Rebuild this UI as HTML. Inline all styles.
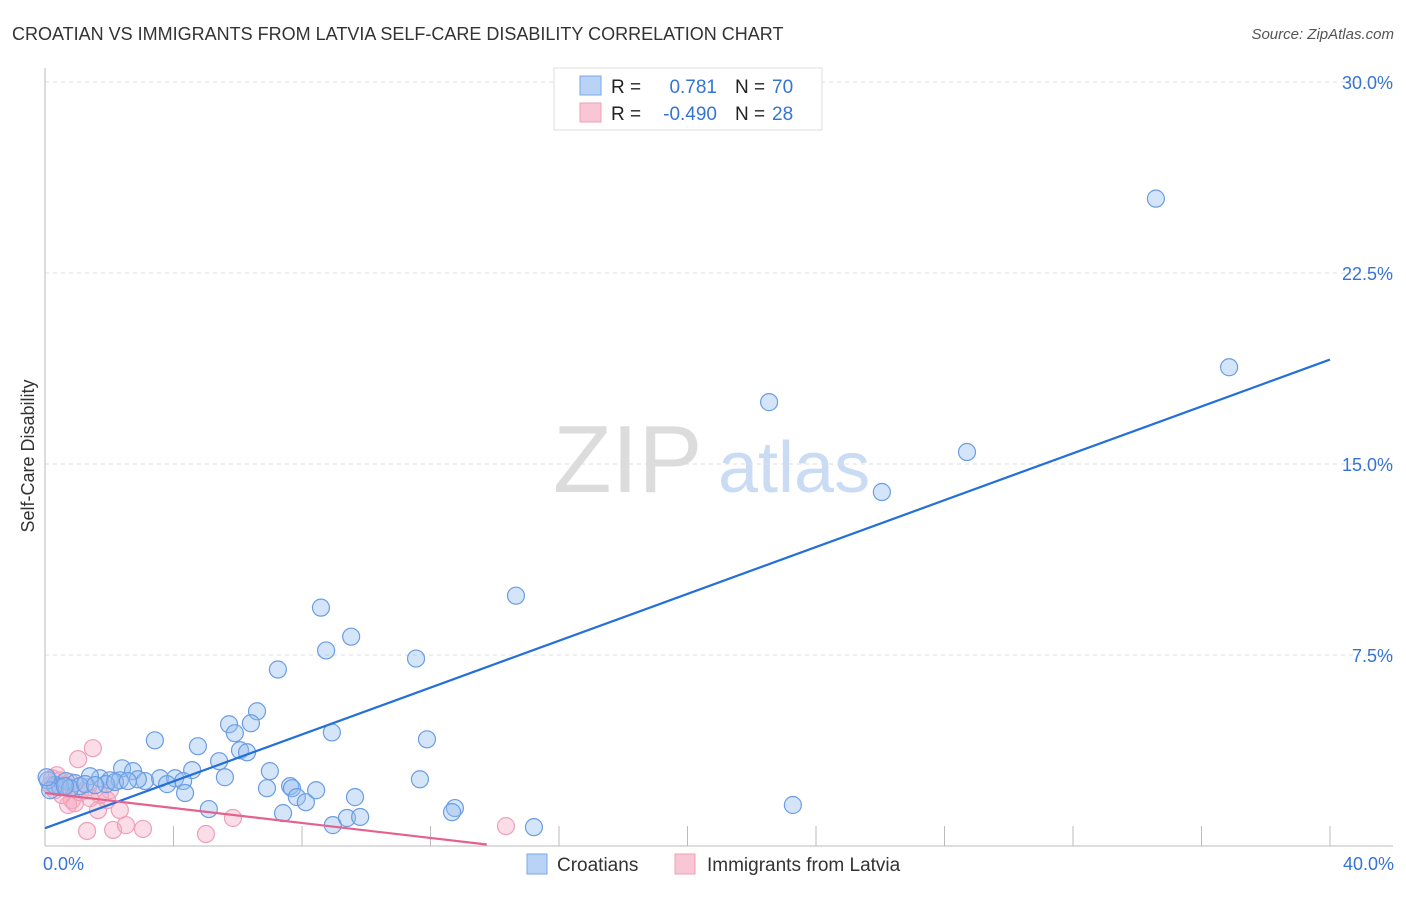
<!DOCTYPE html>
<html><head><meta charset="utf-8"><style>
body{margin:0;background:#fff;font-family:"Liberation Sans",sans-serif;}
svg text{font-family:"Liberation Sans",sans-serif;}
</style></head><body>
<svg id="chart" width="1406" height="892" xmlns="http://www.w3.org/2000/svg">
<text x="12" y="40" font-size="18" fill="#333">CROATIAN VS IMMIGRANTS FROM LATVIA SELF-CARE DISABILITY CORRELATION CHART</text>
<text x="1394" y="39" font-size="15" fill="#555" font-style="italic" text-anchor="end">Source: ZipAtlas.com</text>
<g>
<text x="553" y="492" font-size="96" font-family="Liberation Serif" fill="#dcdcdc">ZIP</text>
<text x="718" y="492" font-size="72" fill="#c9dcf3">atlas</text>
</g>
<g id="grid"></g>
<g id="axes"></g>
<g id="marks"></g>
<text transform="translate(34,456) rotate(-90)" font-size="18" fill="#333" text-anchor="middle">Self-Care Disability</text>
<g>
<rect x="554" y="68" width="268" height="62" fill="#fff" stroke="#ddd"/>
<rect x="580" y="76" width="21" height="19" fill="#b8d3f5" stroke="#7aa8e6"/>
<rect x="580" y="103" width="21" height="19" fill="#f8c6d4" stroke="#ee9fb6"/>
<text x="611" y="93" font-size="19" fill="#222">R =</text>
<text x="717" y="93" font-size="19" fill="#3574d4" text-anchor="end">0.781</text>
<text x="735" y="93" font-size="19" fill="#222">N =</text>
<text x="772" y="93" font-size="19" fill="#3574d4">70</text>
<text x="611" y="120" font-size="19" fill="#222">R =</text>
<text x="717" y="120" font-size="19" fill="#3574d4" text-anchor="end">-0.490</text>
<text x="735" y="120" font-size="19" fill="#222">N =</text>
<text x="772" y="120" font-size="19" fill="#3574d4">28</text>
</g>
<g>
<rect x="527" y="854" width="20" height="20" fill="#b8d3f5" stroke="#7aa8e6"/>
<text x="557" y="871" font-size="19" fill="#333">Croatians</text>
<rect x="675" y="854" width="20" height="20" fill="#f8c6d4" stroke="#ee9fb6"/>
<text x="707" y="871" font-size="19" fill="#333">Immigrants from Latvia</text>
</g>
</svg>
<script>
const yTicks=[7.5,15,22.5,30];
const yTickLabels=["7.5%","15.0%","22.5%","30.0%"];
const xTicks=[0,4,8,12,16,20,24,28,32,36,40];
const xEndLabels=["0.0%","40.0%"];
const blueX=[34.58,36.86,22.54,28.70,26.05,14.66,8.59,9.53,8.75,11.55,7.25,6.60,5.73,6.41,5.91,8.93,11.89,3.42,4.76,6.07,6.29,5.42,4.58,2.40,2.74,7.00,5.60,3.58,4.05,4.30,1.71,1.40,2.02,2.33,3.11,2.89,0.65,0.93,1.09,0.31,0.47,0.09,0.16,0.78,1.90,3.80,4.36,5.10,6.91,7.63,7.69,7.84,8.12,8.44,9.65,11.67,7.41,12.76,12.67,23.28,8.96,9.40,9.81,15.22,0.62,1.25,1.56,2.18,2.58,0.05];
const blueY=[25.42,18.80,17.43,15.47,13.90,9.83,9.36,8.22,7.68,7.36,6.93,5.29,4.78,4.82,4.43,4.46,4.19,4.15,3.92,3.76,3.68,3.33,2.98,3.05,2.94,2.94,2.70,2.66,2.66,2.55,2.66,2.74,2.58,2.58,2.55,2.62,2.55,2.47,2.35,2.39,2.31,2.58,2.19,2.27,2.43,2.43,2.08,1.45,2.27,2.35,2.27,1.92,1.72,2.19,1.92,2.62,1.29,1.49,1.33,1.61,0.82,1.10,1.14,0.74,2.35,2.43,2.39,2.51,2.55,2.7];
const pinkX=[1.49,1.03,0.37,0.22,0.47,0.62,0.78,1.34,2.02,0.84,0.72,0.93,1.71,1.93,2.33,1.65,1.31,2.12,2.52,3.05,5.01,5.85,14.35,0.31,0.16,0.53,1.09,1.40];
const pinkY=[3.84,3.41,2.78,2.66,2.58,2.39,2.51,2.31,2.19,1.80,1.61,1.68,2.00,1.80,1.41,1.41,0.59,0.63,0.82,0.67,0.47,1.10,0.78,2.19,2.39,2.00,2.11,1.88];
const blueTrend=[0.70,0.46,0,40];   // intercept, slope, xStart, xEnd
const pinkTrend=[2.08,-0.147,0,13.75];
const X0=45,X1=1330,Y0=846,Y30=82;
const sx=v=>X0+(v/40)*(X1-X0);
const sy=v=>Y0-(v/30)*(Y0-Y30);
const NS="http://www.w3.org/2000/svg";
function mk(tag,attrs,parent){const e=document.createElementNS(NS,tag);for(const k in attrs)e.setAttribute(k,attrs[k]);document.getElementById(parent).appendChild(e);return e;}
yTicks.forEach((t,i)=>{
 const g=mk('line',{x1:X0,x2:1393,y1:sy(t),y2:sy(t),stroke:'#ddd','stroke-dasharray':'4,4'},'grid');
 
 
 const l=mk('text',{x:1393,y:sy(t)+7,'font-size':18,fill:'#3574d4','text-anchor':'end'},'axes');
 l.textContent=yTickLabels[i];
 
 
});
const ya=mk('line',{x1:X0,x2:X0,y1:68,y2:Y0,stroke:'#bbb'},'axes');


const xa=mk('line',{x1:X0,x2:1393,y1:Y0,y2:Y0,stroke:'#bbb'},'axes');


xTicks.forEach(t=>{
 const tk=mk('line',{x1:sx(t),x2:sx(t),y1:826,y2:Y0,stroke:'#bbb'},'axes');
 
 
});
[[0,'start',X0-2],[40,'end',1394]].forEach((d,i)=>{
 const l=mk('text',{x:d[2],y:870,'font-size':18,fill:'#3574d4','text-anchor':d[1]},'axes');
 l.textContent=xEndLabels[i];
 
 
});
pinkX.forEach((x,i)=>{
 const c=mk('circle',{cx:sx(x),cy:sy(pinkY[i]),r:8.5,fill:'rgba(244,170,195,0.4)',stroke:'#eea0b8','stroke-width':1.2},'marks');
 
 
});
blueX.forEach((x,i)=>{
 const c=mk('circle',{cx:sx(x),cy:sy(blueY[i]),r:8.5,fill:'rgba(150,190,240,0.4)',stroke:'#6a9de3','stroke-width':1.2},'marks');
 
 
});
function trend(t,col,name){
 const l=mk('line',{x1:sx(t[2]),y1:sy(t[0]+t[1]*t[2]),x2:sx(t[3]),y2:sy(t[0]+t[1]*t[3]),stroke:col,'stroke-width':2.2},'marks');
 
 
}
trend(blueTrend,'#2470d8','croatian-trend-line');
trend(pinkTrend,'#e4628c','latvia-trend-line');
</script>
</body></html>
